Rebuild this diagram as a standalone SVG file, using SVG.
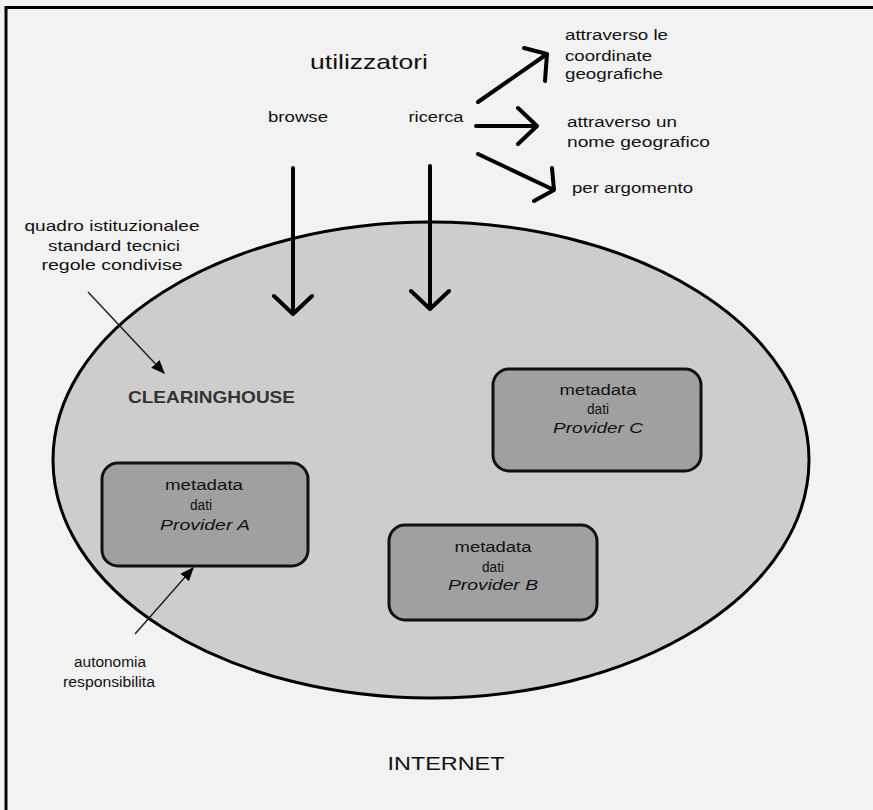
<svg xmlns="http://www.w3.org/2000/svg" width="873" height="810" viewBox="0 0 873 810">
<style>
text{font-family:"Liberation Sans",Arial,sans-serif;fill:#111;}
.s{font-size:14px;}
.m{font-size:14px;text-anchor:middle;}
.it{font-style:italic;}
.thick{stroke:#000;stroke-width:4;fill:none;stroke-linecap:round;stroke-linejoin:round;}
.thin{stroke:#222;stroke-width:1.5;fill:none;}
.box{fill:#a0a0a0;stroke:#111;stroke-width:3;}
</style>
<defs>
<marker id="triA" viewBox="0 0 10 10" refX="9" refY="5" markerWidth="14" markerHeight="14" markerUnits="userSpaceOnUse" orient="auto">
<path d="M0,1 L10,5 L0,9 z" fill="#000"/>
</marker>
</defs>
<rect x="0" y="0" width="873" height="810" fill="#f2f2f2"/>
<path d="M6,810 L6,7.5 L873,7.5" fill="none" stroke="#000" stroke-width="3"/>

<g id="internet">
<ellipse cx="431" cy="460" rx="378" ry="238" fill="#cdcdcd" stroke="#000" stroke-width="3"/>
<text x="446" y="770" font-size="19" text-anchor="middle" textLength="117" lengthAdjust="spacingAndGlyphs">INTERNET</text>
</g>

<g id="utilizzatori">
<text x="369" y="69" font-size="21" text-anchor="middle" textLength="118" lengthAdjust="spacingAndGlyphs">utilizzatori</text>
</g>
<g id="browse">
<text x="298" y="122" class="m" textLength="60" lengthAdjust="spacingAndGlyphs">browse</text>
</g>
<g id="ricerca">
<text x="436" y="122" class="m" textLength="55" lengthAdjust="spacingAndGlyphs">ricerca</text>
</g>
<g id="coordinate">
<text x="565" y="40" class="s" textLength="103" lengthAdjust="spacingAndGlyphs">attraverso le</text>
<text x="565" y="61" class="s" textLength="87" lengthAdjust="spacingAndGlyphs">coordinate</text>
<text x="565" y="79" class="s" textLength="98" lengthAdjust="spacingAndGlyphs">geografiche</text>
</g>
<g id="nome">
<text x="567" y="127" class="s" textLength="110" lengthAdjust="spacingAndGlyphs">attraverso un</text>
<text x="567" y="147" class="s" textLength="143" lengthAdjust="spacingAndGlyphs">nome geografico</text>
</g>
<g id="argomento">
<text x="572" y="193" class="s" textLength="121" lengthAdjust="spacingAndGlyphs">per argomento</text>
</g>
<g id="quadro">
<text x="112" y="231" class="m" textLength="175" lengthAdjust="spacingAndGlyphs">quadro istituzionalee</text>
<text x="114" y="251" class="m" textLength="132" lengthAdjust="spacingAndGlyphs">standard tecnici</text>
<text x="112" y="270" class="m" textLength="141" lengthAdjust="spacingAndGlyphs">regole condivise</text>
</g>
<g id="clearinghouse">
<text x="128" y="403" font-size="17" font-weight="bold" style="fill:#333" textLength="167" lengthAdjust="spacingAndGlyphs">CLEARINGHOUSE</text>
</g>
<g id="autonomia">
<text x="110" y="667" class="m" textLength="72" lengthAdjust="spacingAndGlyphs">autonomia</text>
<text x="109" y="687" class="m" textLength="92" lengthAdjust="spacingAndGlyphs">responsibilita</text>
</g>

<g id="providerA">
<rect class="box" x="102" y="463" width="206" height="103" rx="16"/>
<text x="204" y="490" class="m" textLength="78" lengthAdjust="spacingAndGlyphs">metadata</text>
<text x="201" y="510" class="m" textLength="22" lengthAdjust="spacingAndGlyphs">dati</text>
<text x="205" y="530" class="m it" textLength="90" lengthAdjust="spacingAndGlyphs">Provider A</text>
</g>
<g id="providerC">
<rect class="box" x="493" y="369" width="208" height="102" rx="16"/>
<text x="598" y="395" class="m" textLength="77" lengthAdjust="spacingAndGlyphs">metadata</text>
<text x="598" y="414" class="m" textLength="22" lengthAdjust="spacingAndGlyphs">dati</text>
<text x="598" y="433" class="m it" textLength="90" lengthAdjust="spacingAndGlyphs">Provider C</text>
</g>
<g id="providerB">
<rect class="box" x="389" y="525" width="208" height="95" rx="16"/>
<text x="493" y="552" class="m" textLength="77" lengthAdjust="spacingAndGlyphs">metadata</text>
<text x="493" y="572" class="m" textLength="22" lengthAdjust="spacingAndGlyphs">dati</text>
<text x="493" y="590" class="m it" textLength="90" lengthAdjust="spacingAndGlyphs">Provider B</text>
</g>

<g id="connectors">
<path class="thick" d="M293,168 L293,314 M274,296 L293,314 L312,296"/>
<path class="thick" d="M430,166 L430,309 M411,291 L430,309 L449,291"/>
<path class="thick" d="M478,102 L547,54 M524,48 L547,54 L545,81"/>
<path class="thick" d="M476,126 L537,126 M518,108 L537,126 L518,144"/>
<path class="thick" d="M478,154 L554,190 M552,168 L554,190 L534,201"/>
<line class="thin" x1="88" y1="292" x2="164" y2="373" marker-end="url(#triA)"/>
<line class="thin" x1="135" y1="634" x2="193" y2="568" marker-end="url(#triA)"/>
</g>
</svg>
